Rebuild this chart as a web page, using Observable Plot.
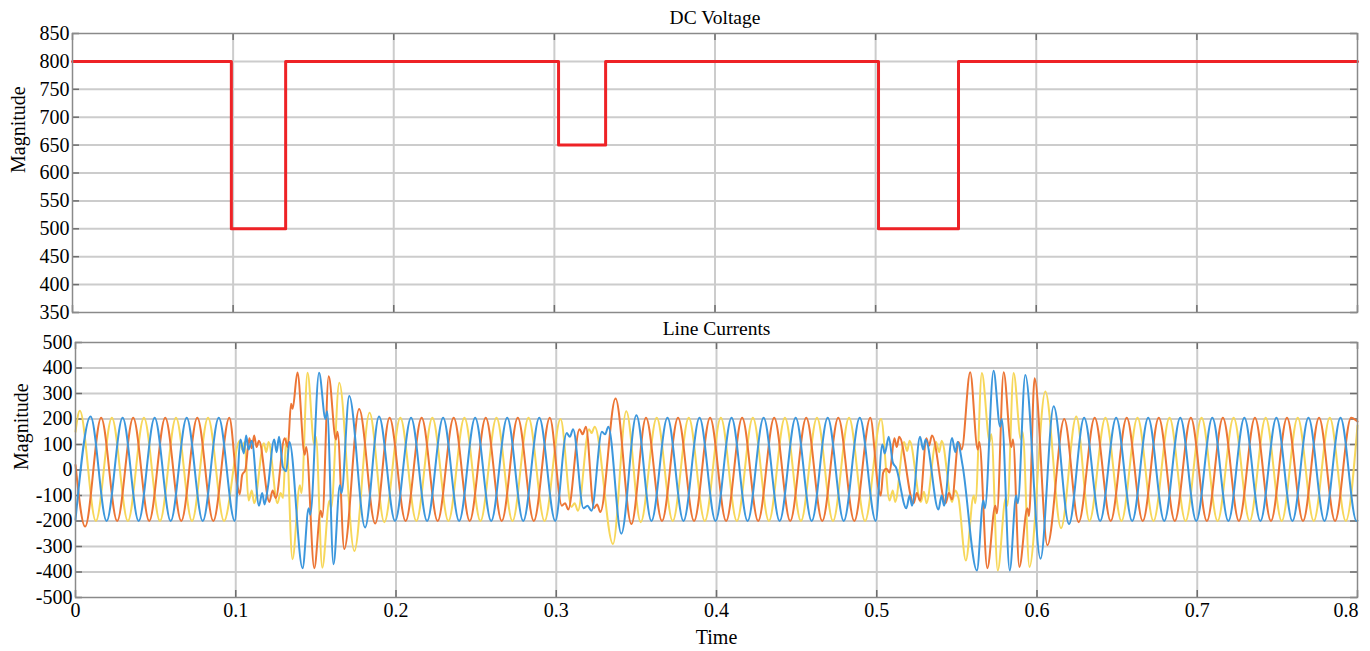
<!DOCTYPE html>
<html><head><meta charset="utf-8">
<script src="https://cdn.jsdelivr.net/npm/d3@7"></script>
<script src="https://cdn.jsdelivr.net/npm/@observablehq/plot@0.6"></script>
<style>
body{margin:0;background:#fff;}
#wrap{position:relative;width:1370px;height:651px;overflow:hidden;}
#topPanel,#botPanel{position:absolute;left:0;}
#topPanel{top:0;} #botPanel{top:320px;}
#wrap svg text{font-family:"Liberation Serif","Times New Roman",serif;}
</style></head><body><div id="wrap"><div id="topPanel"></div><div id="botPanel"></div></div>
<script>
// ---------- data (time in ms, value) ----------
const xTicks = [0, 0.1, 0.2, 0.3, 0.4, 0.5, 0.6, 0.7, 0.8];
const dcTicks = [350, 400, 450, 500, 550, 600, 650, 700, 750, 800, 850];
const curTicks = [-500, -400, -300, -200, -100, 0, 100, 200, 300, 400, 500];

const dcTime = [0, 98.9, 132.7, 302.6, 331.9, 501.8, 551.6, 800];
const dcValue = [800, 500, 800, 650, 800, 500, 800, 800];

const blue = [[0,-195],[9.4,210],[19.4,-200],[29.4,205],[39.4,-200],[49.4,205],[59.4,-200],[69.4,205],[79.4,-200],[89.4,205],[99.4,-200],
[103,120],[105,65],[106.5,135],[108,80],[110,115],[114.5,-140],[116.5,-90],[118,-135],[120,-70],[124,120],[125.5,70],[127,130],[129.5,10],[131.5,-5],[133.5,110],
[141.7,-385],[145.5,-150],[146.5,-175],[152,381],[156,200],[157,230],[161,-370],[165,-60],[166,-90],[170.8,290],[180.7,-225],[189.4,210],[199.4,-200],
[209.4,205],[219.4,-200],[229.4,205],[239.4,-200],[249.4,205],[259.4,-200],[269.4,205],[279.4,-200],[289.4,205],[299.4,-200],
[306.5,145],[308.5,130],[310.5,160],[317,-150],[319.5,-140],[322,-160],[328.5,150],[330.5,140],[332.5,170],[340.6,-250],[350,215],[359.4,-200],
[369.4,205],[379.4,-200],[389.4,205],[399.4,-200],[409.4,205],[419.4,-200],[429.4,205],[439.4,-200],[449.4,205],[459.4,-200],[469.4,205],[479.4,-200],[489.4,205],[499.4,-200],
[503.5,100],[505,65],[507.5,130],[510,30],[512,10],[518.5,-150],[520.5,-100],[522,-140],[527,130],[529,80],[530.5,120],[538.5,-155],[540.5,-100],[542,-140],[547,125],[549,70],[550.5,110],[553.5,20],
[562.5,-394],[566.5,-120],[567.5,-150],[572.9,389],[577,170],[578,200],[583,-394],[587,-100],[588,-130],[592.7,373],[602.2,-348],[610.4,250],[620,-212],[629.4,205],[639.4,-200],
[649.4,205],[659.4,-200],[669.4,205],[679.4,-200],[689.4,205],[699.4,-200],[709.4,205],[719.4,-200],[729.4,205],[739.4,-200],[749.4,205],[759.4,-200],[769.4,205],[779.4,-200],[789.4,205],[799.4,-200],[800,-199]];

const orange = [[0,20],[6,-222],[16,205],[26,-200],[36,205],[46,-200],[56,205],[66,-200],[76,205],[86,-200],[96,205],
[101,-60],[102.5,-95],[104,-20],[106,0],[108.5,125],[110,85],[111.5,135],[113,90],[114.5,115],[121,-125],[123,-80],[125,-110],[130.5,125],[132.5,90],[134.5,260],[135.5,240],
[138.5,382],[143,60],[144,90],[149,-385],[153,-160],[154,-185],[158,368],[162.5,120],[163.5,150],[167.7,-310],[177,239],[187,-210],[196,205],
[206,-200],[216,205],[226,-200],[236,205],[246,-200],[256,205],[266,-200],[276,205],[286,-200],[296,205],
[303.5,-140],[305.5,-130],[307.5,-155],[314.5,160],[316.5,140],[318.5,170],[323.5,-150],[325.5,-135],[327.5,-165],[337,280],[346.9,-212],[356,205],
[366,-200],[376,205],[386,-200],[396,205],[406,-200],[416,205],[426,-200],[436,205],[446,-200],[456,205],[466,-200],[476,205],[486,-200],[496,205],
[501,-70],[502.5,-100],[504,-10],[506,5],[508,-10],[511,125],[512.5,90],[514,130],[523,-130],[525,-90],[527,-120],[531,125],[532.5,95],[534.5,135],[543,-130],[545,-90],[547,-115],[551,110],[553,80],
[558.3,383],[563,80],[564,110],[569,-385],[574,-140],[575,-170],[579.2,383],[584,90],[585,120],[589,-380],[594,-150],[595,-180],[598.5,360],[606.5,-295],[617,200],[626,-205],
[636,205],[646,-200],[656,205],[666,-200],[676,205],[686,-200],[696,205],[706,-200],[716,205],[726,-200],[736,205],[746,-200],[756,205],[766,-200],[776,205],[786,-200],[796,205],[800,190]];

const yellow = [[0,150],[2.7,232],[12.7,-200],[22.7,205],[32.7,-200],[42.7,205],[52.7,-200],[62.7,205],[72.7,-200],[82.7,205],[92.7,-200],
[102.5,115],[104,80],[105.5,110],[108,-120],[110,-80],[111.5,-130],[117.5,105],[119,70],[120.5,110],[126,-130],[128,-90],[129.5,-110],[131.5,125],
[135.4,-350],[140,-60],[141,-90],[144.8,381],[149,100],[150,130],[154,-383],[158.5,-120],[159.5,-150],[164.6,342],[174,-318],[183.5,225],[192.7,-205],
[202.7,205],[212.7,-200],[222.7,205],[232.7,-200],[242.7,205],[252.7,-200],[262.7,205],[272.7,-200],[282.7,205],[292.7,-200],[302.7,200],
[309.5,-145],[311.5,-130],[313.5,-160],[320.5,160],[322,145],[324,170],[335.4,-290],[343.7,230],[352.7,-205],
[362.7,205],[372.7,-200],[382.7,205],[392.7,-200],[402.7,205],[412.7,-200],[422.7,205],[432.7,-200],[442.7,205],[452.7,-200],[462.7,205],[472.7,-200],[482.7,205],[492.7,-200],[502.7,200],
[508,-120],[510,-80],[511.5,-125],[517,110],[519,75],[520.5,115],[527.5,-125],[529.5,-85],[531,-130],[537,110],[539,70],[540.5,115],[547,-125],[549,-80],[551,-110],
[555.6,-355],[560.5,-100],[561.5,-130],[565.6,380],[570.5,110],[571.5,140],[575.5,-394],[580.5,-110],[581.5,-140],[585.4,380],[590,120],[591,150],[595.3,-380],[605.2,308],[615,-228],[624.5,210],
[632.7,-200],[642.7,205],[652.7,-200],[662.7,205],[672.7,-200],[682.7,205],[692.7,-200],[702.7,205],[712.7,-200],[722.7,205],[732.7,-200],[742.7,205],[752.7,-200],[762.7,205],[772.7,-200],[782.7,205],[792.7,-200],[800,175]];

// ---------- styling ----------
const W = 1370, MR = 13;
const FONT = '"Liberation Serif", "Times New Roman", serif';
const gridColor = "#cccccc", frameColor = "#8a8a8a", tickColor = "#6e6e6e";
const fmt = d => String(d);

function panel({height, marginTop, marginBottom, marginLeft, yDomain, yTicks, title, titleDy, marks, xLabels}) {
  const innerW = W - marginLeft - MR;
  const innerH = height - marginTop - marginBottom;
  const extra = xLabels ? [
    Plot.axisX(xTicks.slice(0, -1), {tickSize: 0, tickPadding: 5, tickFormat: fmt, fontSize: 20, fontFamily: FONT, label: null}),
    Plot.axisX(xTicks.slice(-1), {tickSize: 0, tickPadding: 5, tickFormat: fmt, fontSize: 20, fontFamily: FONT, label: null, textAnchor: "end", dx: 1}),
    Plot.text(["Time"], {frameAnchor: "bottom", lineAnchor: "middle", dy: 40, fontSize: 20, fontFamily: FONT, fill: "#000"})
  ] : [];
  return Plot.plot({
    width: W, height, marginTop, marginBottom, marginLeft, marginRight: MR,
    style: {fontFamily: FONT, fontSize: "20px", color: "#000", background: "transparent", overflow: "visible"},
    x: {domain: [0, 0.8], axis: null},
    y: {domain: yDomain, axis: null},
    marks: [
      Plot.ruleY(yTicks.slice(1, -1), {y: d => d, stroke: gridColor, strokeWidth: 2}),
      Plot.ruleX(xTicks.slice(1, -1), {x: d => d, stroke: gridColor, strokeWidth: 2}),
      Plot.tickY(yTicks, {y: d => d, stroke: tickColor, strokeWidth: 1.5, insetRight: innerW - 7}),
      Plot.tickY(yTicks, {y: d => d, stroke: tickColor, strokeWidth: 1.5, insetLeft: innerW - 7}),
      Plot.tickX(xTicks, {x: d => d, stroke: tickColor, strokeWidth: 1.5, insetTop: innerH - 7}),
      Plot.tickX(xTicks, {x: d => d, stroke: tickColor, strokeWidth: 1.5, insetBottom: innerH - 7}),
      ...marks,
      Plot.frame({stroke: frameColor, strokeWidth: 1.5}),
      Plot.axisY(yTicks, {tickSize: 0, tickPadding: 3, tickFormat: fmt, fontSize: 20, fontFamily: FONT, label: null}),
      Plot.text(["Magnitude"], {frameAnchor: "left", dx: -54, rotate: -90, fontSize: 20, fontFamily: FONT, fill: "#000"}),
      Plot.text([title], {frameAnchor: "top", lineAnchor: "middle", dy: titleDy, fontSize: 19.5, fontFamily: FONT, fill: "#000"}),
      ...extra
    ]
  });
}

const dcData = dcTime.map((t, i) => ({t: t / 1000, v: dcValue[i]}));
const topChart = panel({
  height: 320, marginTop: 33, marginBottom: 8, marginLeft: 72,
  yDomain: [350, 850], yTicks: dcTicks, title: "DC Voltage", titleDy: -16, xLabels: false,
  marks: [Plot.line(dcData, {x: "t", y: "v", curve: "step-after", stroke: "#ee2226", strokeWidth: 3})]
});

const phase = (arr, color) => Plot.line(arr, {x: d => d[0] / 1000, y: d => d[1], curve: "monotone-x", stroke: color, strokeWidth: 2});
const botChart = panel({
  height: 331, marginTop: 22, marginBottom: 54, marginLeft: 75,
  yDomain: [-500, 500], yTicks: curTicks, title: "Line Currents", titleDy: -14, xLabels: true,
  marks: [phase(yellow, "#f7d75a"), phase(orange, "#ec7535"), phase(blue, "#3c97dd")]
});

document.getElementById("topPanel").appendChild(topChart);
document.getElementById("botPanel").appendChild(botChart);
</script></body></html>
